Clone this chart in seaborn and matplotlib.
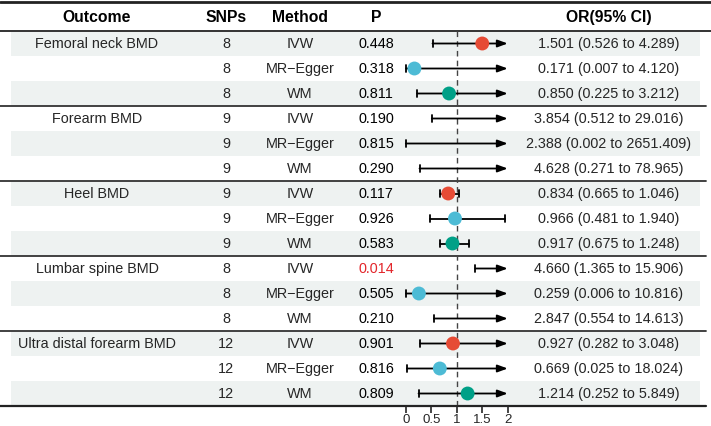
import numpy as np
import pandas as pd
import matplotlib
matplotlib.use("Agg")
import matplotlib.pyplot as plt
import seaborn as sns

sns.set_style("white")
plt.rcParams["font.family"] = ["Liberation Sans", "DejaVu Sans"]

# ==========================================
# Data
# ==========================================

outcomes = ["Femoral neck BMD", "Forearm BMD", "Heel BMD",
            "Lumbar spine BMD", "Ultra distal forearm BMD"]
methods = ["IVW", "MR\u2212Egger", "WM"]
snps = [8, 8, 8, 9, 9, 9, 9, 9, 9, 8, 8, 8, 12, 12, 12]
pvals = ["0.448", "0.318", "0.811", "0.190", "0.815", "0.290",
         "0.117", "0.926", "0.583", "0.014", "0.505", "0.210",
         "0.901", "0.816", "0.809"]
odds = [1.501, 0.171, 0.850, 3.854, 2.388, 4.628, 0.834, 0.966, 0.917,
        4.660, 0.259, 2.847, 0.927, 0.669, 1.214]
lower = [0.526, 0.007, 0.225, 0.512, 0.002, 0.271, 0.665, 0.481, 0.675,
         1.365, 0.006, 0.554, 0.282, 0.025, 0.252]
upper = [4.289, 4.120, 3.212, 29.016, 2651.409, 78.965, 1.046, 1.940, 1.248,
         15.906, 10.816, 14.613, 3.048, 18.024, 5.849]
xticks = [0, 0.5, 1, 1.5, 2]
xticklabels = ["0", "0.5", "1", "1.5", "2"]

method_colors = {"IVW": "#E64B35", "MR\u2212Egger": "#4DBBD5", "WM": "#00A087"}

df = pd.DataFrame({
    "Outcome": np.repeat(outcomes, 3),
    "SNPs": snps,
    "Method": methods * len(outcomes),
    "P": pvals,
    "OR": odds,
    "lo": lower,
    "hi": upper,
})
df["row"] = np.arange(len(df)) + 0.5
df["label"] = [f"{o:.3f} ({l:.3f} to {h:.3f})" for o, l, h in zip(df.OR, df.lo, df.hi)]

# ==========================================
# Layout (pixels)
# ==========================================

W, H = 711, 426
top_y, head_y, row_h = 2, 31, 25
n = len(df)
bottom_y = head_y + n * row_h
xmin, xmax = 0, 2
x0_px, x2_px = 405.7, 507.7

fig = plt.figure(figsize=(W / 100, H / 100), dpi=100)
ax = fig.add_axes([0, 0, 1, 1])
ax.set_xlim(0, W)
ax.set_ylim(H, 0)
ax.axis("off")

# row shading
for i in range(n):
    if i % 2 == 0:
        ax.add_patch(plt.Rectangle((11, head_y + i * row_h), 689, row_h,
                                   color="#EEF2F1", lw=0, zorder=0))

# table lines
ax.plot([0, W], [top_y, top_y], color="#222222", lw=2)
ax.plot([0, W], [head_y, head_y], color="#333333", lw=1.4)
for g in range(1, len(outcomes)):
    y = head_y + 3 * g * row_h
    ax.plot([0, 706], [y, y], color="#333333", lw=1.3)
ax.plot([0, 706], [bottom_y, bottom_y], color="#222222", lw=1.6)

# header
col_x = {"Outcome": 97, "SNPs": 226, "Method": 300, "P": 376, "OR": 609}
hy = (top_y + head_y) / 2 + 1
for key, txt in [("Outcome", "Outcome"), ("SNPs", "SNPs"), ("Method", "Method"),
                 ("P", "P"), ("OR", "OR(95% CI)")]:
    ax.text(col_x[key], hy, txt, ha="center", va="center",
            fontsize=11.3, fontweight="bold", color="black")

# body text
fs = 10.4
for i, r in df.iterrows():
    y = head_y + i * row_h + row_h / 2 + 0.5
    if i % 3 == 0:
        ax.text(col_x["Outcome"], y, r.Outcome, ha="center", va="center", fontsize=fs)
    ax.text(col_x["SNPs"], y, str(r.SNPs), ha="center", va="center", fontsize=fs)
    ax.text(col_x["Method"], y, r.Method, ha="center", va="center", fontsize=fs)
    pc = "#E3262B" if float(r.P) < 0.05 else "black"
    ax.text(col_x["P"], y, r.P, ha="center", va="center", fontsize=fs, color=pc)
    ax.text(col_x["OR"], y, r.label, ha="center", va="center", fontsize=fs)

# ==========================================
# Forest plot
# ==========================================

fax = fig.add_axes([x0_px / W, (H - bottom_y) / H,
                    (x2_px - x0_px) / W, (bottom_y - head_y) / H])
fax.patch.set_alpha(0)
fax.set_xlim(xmin, xmax)
fax.set_ylim(n, 0)
for s in ["top", "right", "left"]:
    fax.spines[s].set_visible(False)
fax.spines["bottom"].set_bounds(xmin, xmax)
fax.spines["bottom"].set_linewidth(1.2)
fax.set_yticks([])
fax.set_xticks(xticks, xticklabels)
fax.tick_params(axis="x", length=5, width=1.2, pad=1, labelsize=9.5, bottom=True)
fax.grid(False)

fax.axvline(1, color="#444444", lw=1, ls=(0, (4, 3)), zorder=1)

cap = 0.13
for _, r in df.iterrows():
    y = r.row
    fax.plot([r.lo, r.lo], [y - cap, y + cap], color="black", lw=1.3,
             clip_on=False, zorder=2)
    if r.hi > xmax:
        fax.annotate("", xy=(xmax, y), xytext=(r.lo, y),
                     arrowprops=dict(arrowstyle="-|>,head_length=0.6,head_width=0.22",
                                     color="black", lw=1.3, shrinkA=0, shrinkB=0,
                                     mutation_scale=10),
                     annotation_clip=False, zorder=2)
    else:
        fax.plot([r.lo, r.hi], [y, y], color="black", lw=1.3, zorder=2)
        fax.plot([r.hi, r.hi], [y - cap, y + cap], color="black", lw=1.3, zorder=2)

shown = df[(df.OR >= xmin) & (df.OR <= xmax)]
sns.scatterplot(data=shown, x="OR", y="row", hue="Method", palette=method_colors,
                s=100, edgecolor="none", legend=False, zorder=3, ax=fax, clip_on=False)
fax.set_xlabel("")
fax.set_ylabel("")

fig.savefig("out.png", dpi=100)
